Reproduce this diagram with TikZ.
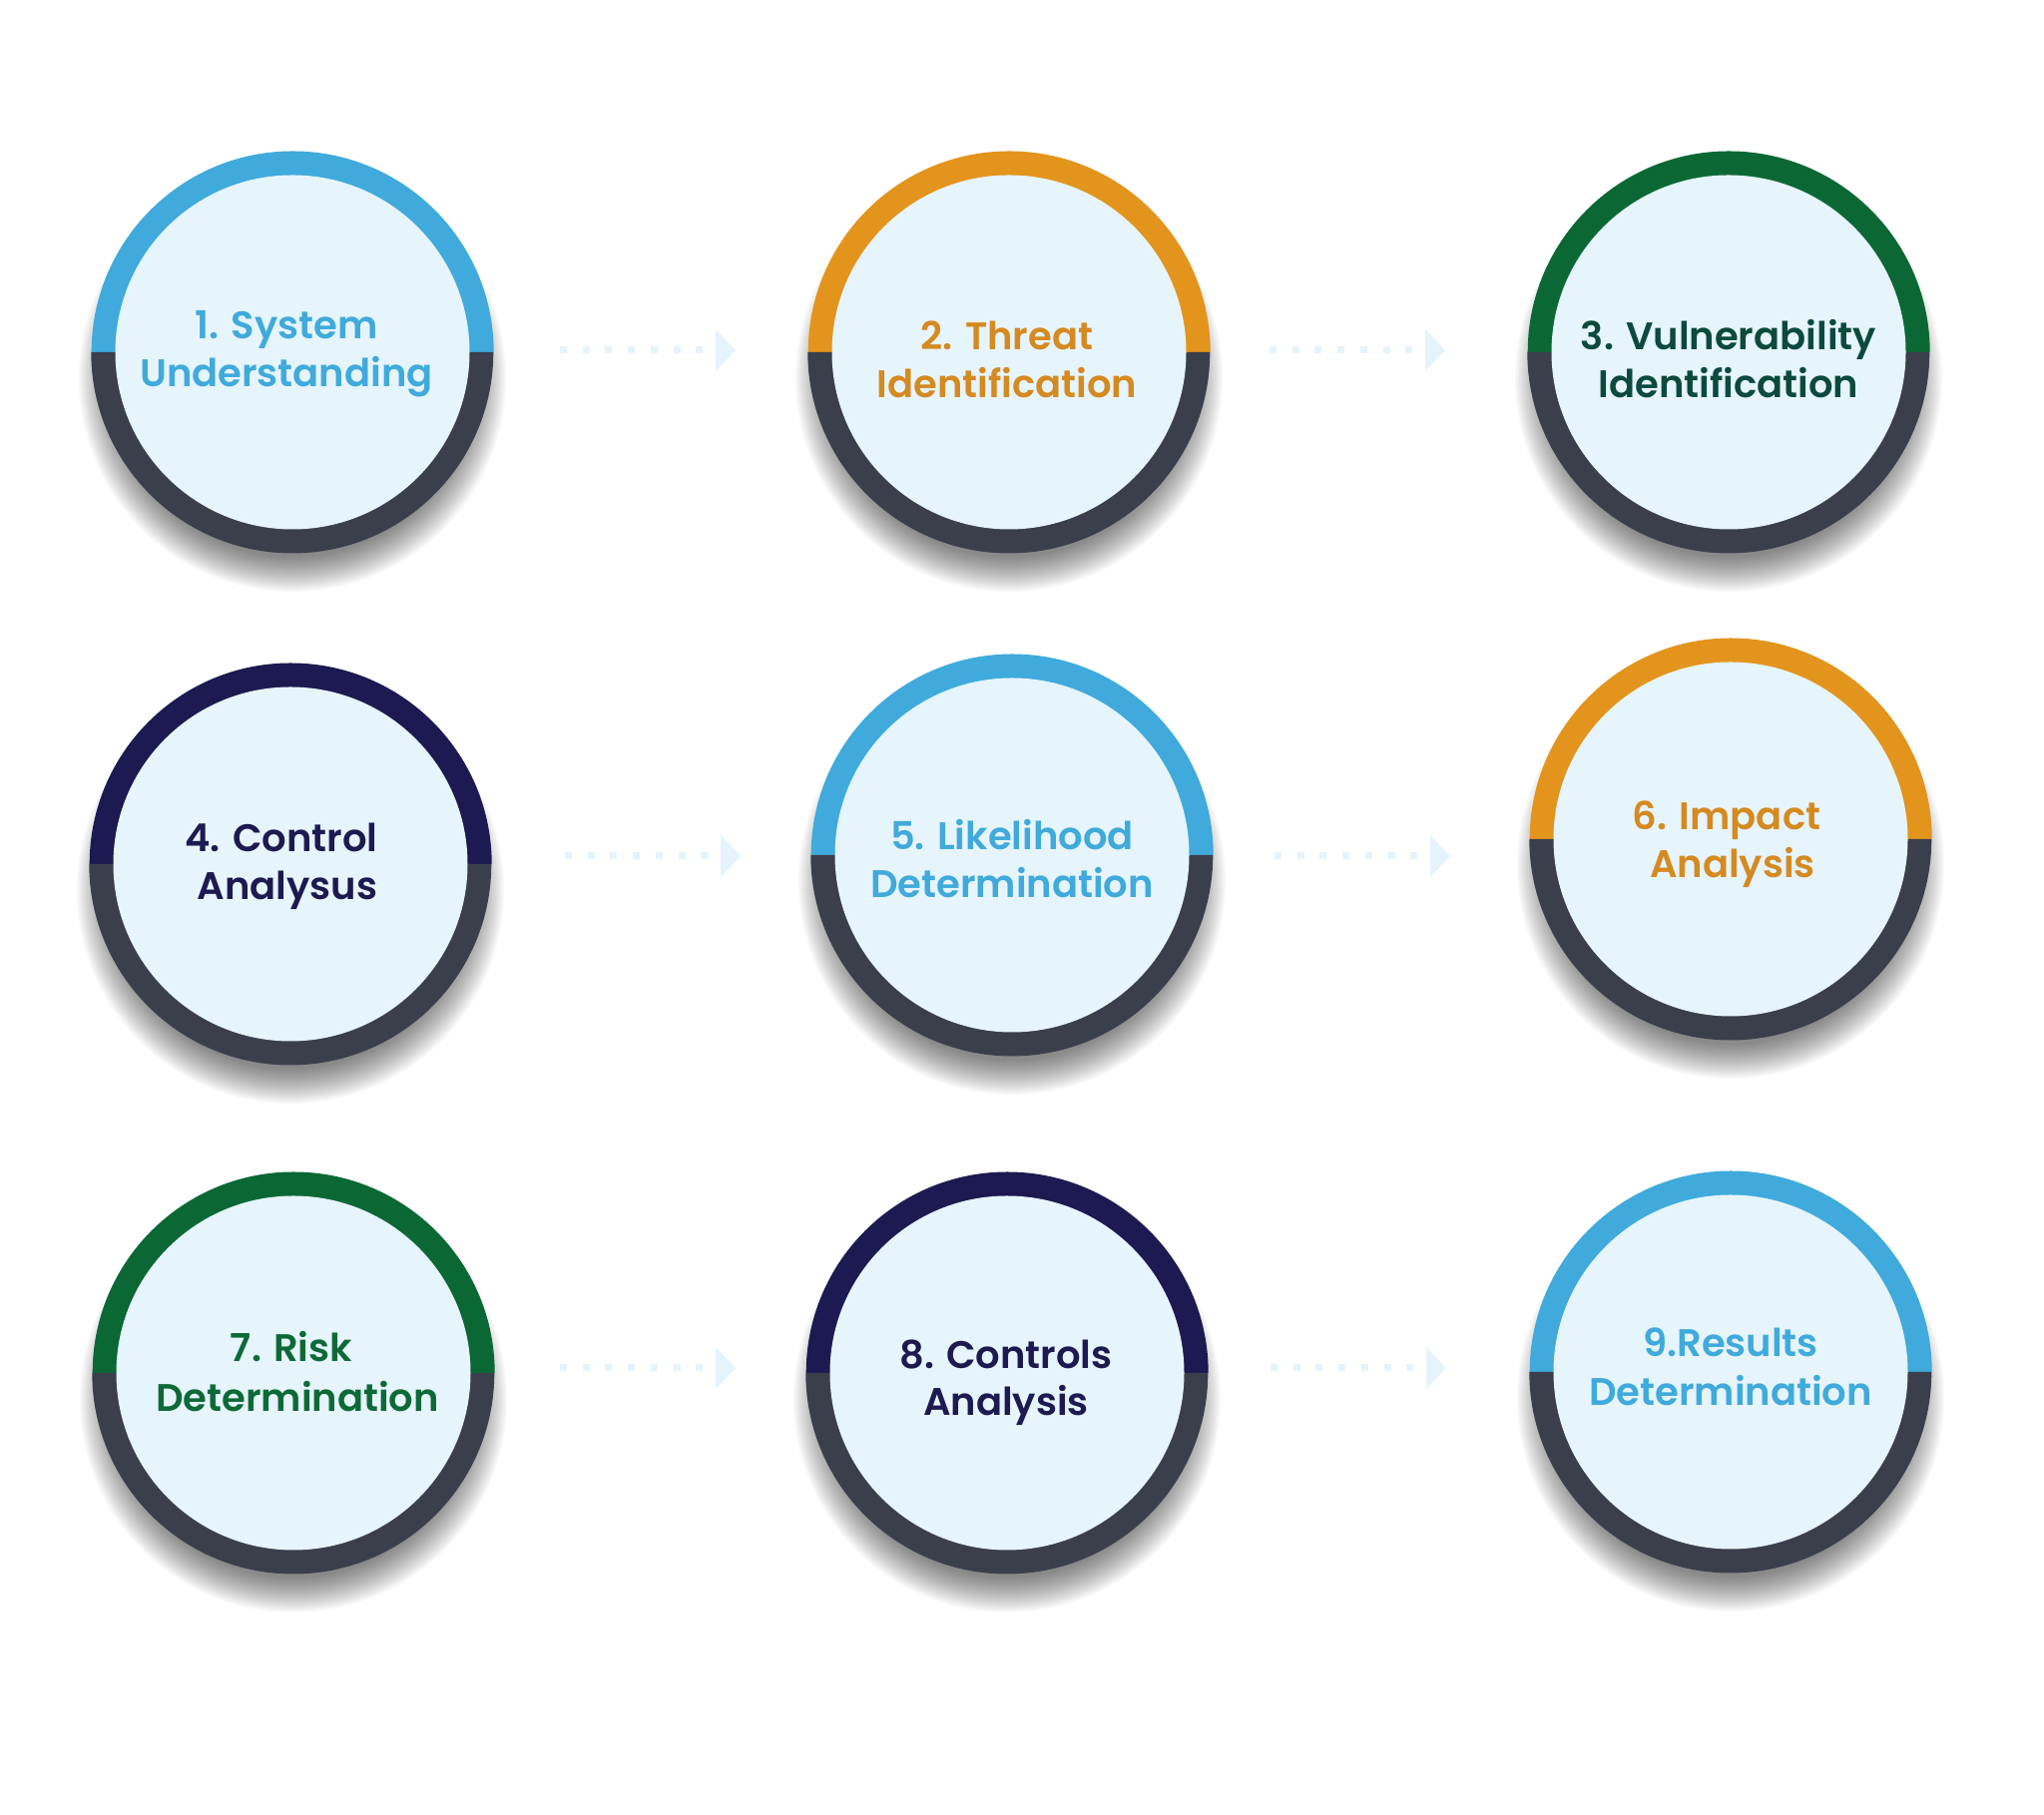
\documentclass[tikz,border=0pt]{standalone}
\usepackage{fontspec}
\IfFontExistsTF{Poppins SemiBold}{\setmainfont{Poppins}[BoldFont={Poppins SemiBold}]}{\setmainfont{Poppins}}
\usetikzlibrary{calc}
\definecolor{cblue}{HTML}{3FAADB}
\definecolor{corange}{HTML}{E3941D}
\definecolor{torange}{HTML}{D58A20}
\definecolor{cgreen}{HTML}{0B6835}
\definecolor{tgreen}{HTML}{0D6A37}
\definecolor{tteal}{HTML}{0B4A3C}
\definecolor{cnavy}{HTML}{1C1A50}
\definecolor{ringgray}{HTML}{3B3F4C}
\definecolor{innerc}{HTML}{E6F4FC}
\definecolor{arrowc}{HTML}{E4F3FC}
\tikzset{
  ringnode/.style={circle, minimum size=403pt, inner sep=0pt},
  lbl/.style={anchor=base, inner sep=0pt, font=\fontsize{38.5}{44}\selectfont\bfseries},
  dotline/.style={draw=arrowc, line width=7pt, dash pattern=on 7pt off 15.7pt},
  shadowc/.style={fill=black, opacity=0.03},
}
\newcommand\stepring[4]{%
  \foreach \r in {180,182,...,214} {\fill[shadowc] (#2,#3-26) circle (\r);}
  \node[ringnode] (#1) at (#2,#3) {};
  \fill[#4] (#1.east) arc[start angle=0, end angle=180, radius=201.5] -- cycle;
  \fill[ringgray] (#1.west) arc[start angle=180, end angle=360, radius=201.5] -- cycle;
  \fill[innerc] (#1) circle (177.5);
}
\newcommand\steparrow[3]{%
  \coordinate (#1s) at (#2,#3);
  \coordinate (#1e) at (#2+144,#3);
  \coordinate (#1t) at (#2+176,#3);
  \draw[dotline] (#1s) -- (#1e);
  \fill[arrowc] ($(#1t)+(-20,21)$) -- (#1t) -- ($(#1t)+(-20,-21)$) -- cycle;
}
\begin{document}
\begin{tikzpicture}[x=1pt, y=1pt]
\fill[white] (0,0) rectangle (2048,1819);
\useasboundingbox (0,0) rectangle (2048,1819);

% arrows
\steparrow{a12}{561}{1468}
\steparrow{a23}{1272}{1468}
\steparrow{a45}{566}{961}
\steparrow{a56}{1277}{961}
\steparrow{a78}{561}{448}
\steparrow{a89}{1273}{448}

% circles
\stepring{c1}{293}{1466}{cblue}
\stepring{c2}{1011}{1466}{corange}
\stepring{c3}{1732}{1466}{cgreen}
\stepring{c4}{291}{953}{cnavy}
\stepring{c5}{1014}{962}{cblue}
\stepring{c6}{1734}{978}{corange}
\stepring{c7}{294}{443}{cgreen}
\stepring{c8}{1009}{443}{cnavy}
\stepring{c9}{1734}{444}{cblue}

% labels
\node[lbl, text=cblue] (t1a) at (287,1479) {1. System};
\node[lbl, text=cblue] (t1b) at (287,1431) {Understanding};
\node[lbl, text=torange] (t2a) at (1009,1468) {2. Threat};
\node[lbl, text=torange] (t2b) at (1009,1420) {Identification};
\node[lbl, text=tteal] (t3a) at (1732,1468) {3. Vulnerability};
\node[lbl, text=tteal] (t3b) at (1732,1420) {Identification};
\node[lbl, text=cnavy] (t4a) at (282,965) {4. Control};
\node[lbl, text=cnavy] (t4b) at (288,917) {Analysus};
\node[lbl, text=cblue] (t5a) at (1014,967) {5. Likelihood};
\node[lbl, text=cblue] (t5b) at (1014,919) {Determination};
\node[lbl, text=torange] (t6a) at (1730,987) {6. Impact};
\node[lbl, text=torange] (t6b) at (1736,939) {Analysis};
\node[lbl, text=tgreen] (t7a) at (292,454) {7. Risk};
\node[lbl, text=tgreen] (t7b) at (298,404) {Determination};
\node[lbl, text=cnavy] (t8a) at (1008,447) {8. Controls};
\node[lbl, text=cnavy] (t8b) at (1008,400) {Analysis};
\node[lbl, text=cblue] (t9a) at (1734,459) {9.Results};
\node[lbl, text=cblue] (t9b) at (1734,410) {Determination};
\end{tikzpicture}
\end{document}
